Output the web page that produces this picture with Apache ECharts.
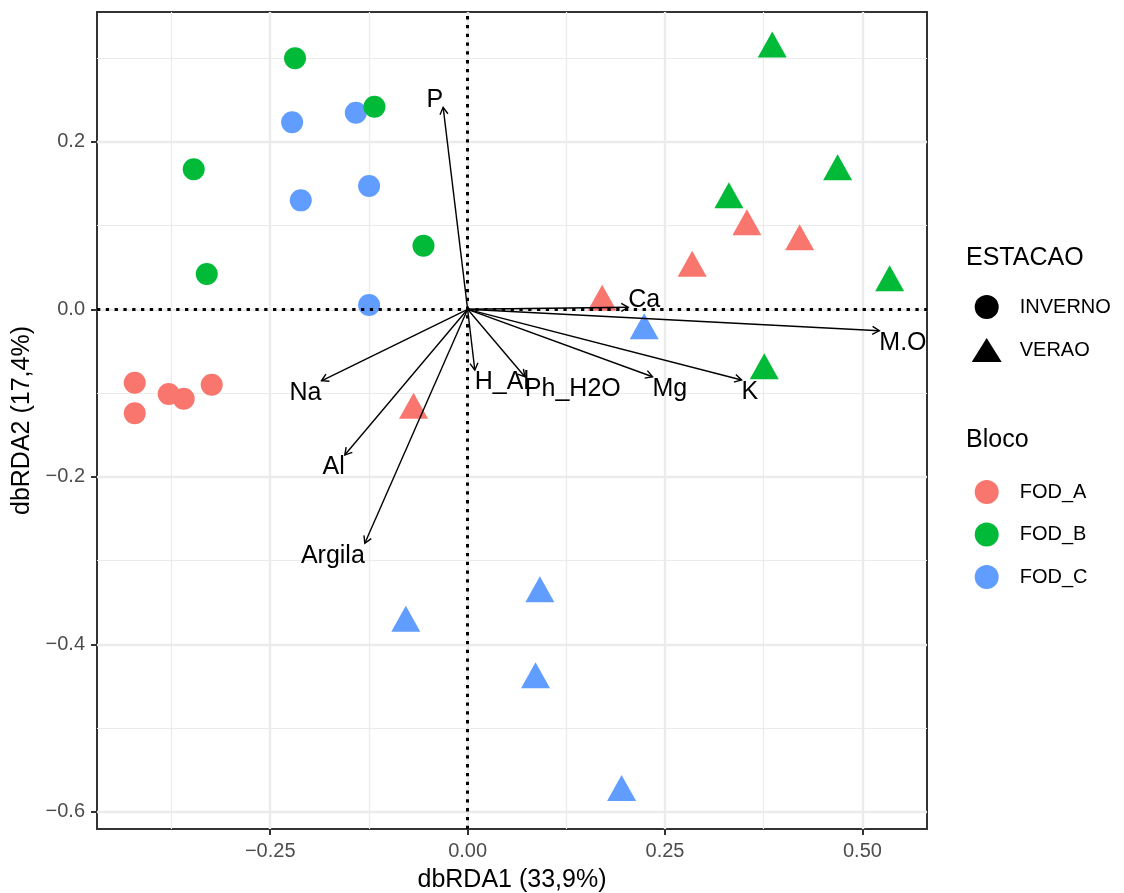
<!DOCTYPE html>
<html>
<head>
<meta charset="utf-8">
<script src="https://cdn.jsdelivr.net/npm/echarts@6/dist/echarts.min.js"></script>
<style>
html,body{margin:0;padding:0;background:#fff;}
#chart{width:1124px;height:893px;}
</style>
</head>
<body>
<div id="chart"></div>
<script>
// ---------- DATA ----------
const blocks = ['FOD_A', 'FOD_B', 'FOD_C'];
const seasons = ['INVERNO', 'VERAO'];

const fodA_season = ['INVERNO','INVERNO','INVERNO','INVERNO','INVERNO','VERAO','VERAO','VERAO','VERAO','VERAO'];
const fodA_x = [-0.4216, -0.3786, -0.3596, -0.3241, -0.4216, 0.3537, 0.4205, 0.2844, 0.1704, -0.0685];
const fodA_y = [-0.0876, -0.1011, -0.1067, -0.0900, -0.1242, 0.0988, 0.0808, 0.0493, 0.0085, -0.1203];

const fodB_season = ['INVERNO','INVERNO','INVERNO','INVERNO','INVERNO','VERAO','VERAO','VERAO','VERAO','VERAO'];
const fodB_x = [-0.2186, -0.1180, -0.3469, -0.3304, -0.0559, 0.3858, 0.4686, 0.3309, 0.5345, 0.3757];
const fodB_y = [0.2997, 0.2419, 0.1672, 0.0421, 0.0760, 0.3110, 0.1643, 0.1309, 0.0318, -0.0733];

const fodC_season = ['INVERNO','INVERNO','INVERNO','INVERNO','INVERNO','VERAO','VERAO','VERAO','VERAO','VERAO'];
const fodC_x = [-0.2223, -0.1416, -0.2113, -0.1248, -0.1248, 0.2236, -0.0783, 0.0915, 0.0860, 0.1950];
const fodC_y = [0.2233, 0.2348, 0.1301, 0.1472, 0.0051, -0.0255, -0.3746, -0.3394, -0.4422, -0.5768];

const envVars = ['P', 'Ca', 'M.O', 'K', 'Mg', 'H_Al', 'Ph_H2O', 'Na', 'Al', 'Argila'];
const envX = [-0.0310, 0.2034, 0.5214, 0.3470, 0.2342, 0.0091, 0.0725, -0.1851, -0.1556, -0.1302];
const envY = [0.2412, 0.0024, -0.0255, -0.0844, -0.0805, -0.0725, -0.0805, -0.0853, -0.1740, -0.2794];

const xTicks = [-0.25, 0, 0.25, 0.5];
const xMinorTicks = [-0.375, -0.125, 0.125, 0.375];
const yTicks = [-0.6, -0.4, -0.2, 0, 0.2];
const yMinorTicks = [-0.5, -0.3, -0.1, 0.1, 0.3];
const xTitle = 'dbRDA1 (33,9%)';
const yTitle = 'dbRDA2 (17,4%)';
const shapeLegendTitle = 'ESTACAO';
const colorLegendTitle = 'Bloco';

// ---------- STYLE ----------
const FONT = "'Liberation Sans', Arial, sans-serif";
const blockColors = { FOD_A: '#F8766D', FOD_B: '#00BA38', FOD_C: '#619CFF' };
const xMin = -0.4694, xMax = 0.5818, yMin = -0.6205, yMax = 0.355;

function pts(xs, ys, ss) {
  return xs.map((x, i) => {
    const tri = ss[i] === 'VERAO';
    return {
      value: [x, ys[i]],
      symbol: tri ? 'triangle' : 'circle',
      symbolSize: tri ? [29, 26] : 22,
      symbolOffset: tri ? [0, '-16.7%'] : [0, 0]
    };
  });
}
function fmtMinus(s) { return s.replace('-', '\u2212'); }

const chart = echarts.init(document.getElementById('chart'), null, { renderer: 'canvas' });

const option = {
  animation: false,
  backgroundColor: '#ffffff',
  textStyle: { fontFamily: FONT },
  grid: {
    left: 97, top: 12, right: 197, bottom: 64,
    outerBoundsMode: 'none', containLabel: false,
    show: true, borderColor: '#333333', borderWidth: 2, backgroundColor: 'transparent'
  },
  title: [
    { text: shapeLegendTitle, left: 966, top: 246, padding: 0,
      textStyle: { fontSize: 25, fontWeight: 'normal', color: '#000', fontFamily: FONT } },
    { text: colorLegendTitle, left: 966, top: 428, padding: 0,
      textStyle: { fontSize: 25, fontWeight: 'normal', color: '#000', fontFamily: FONT } }
  ],
  legend: [
    { orient: 'vertical', left: 971.7, top: 295, padding: 0, itemWidth: 30, itemHeight: 24, itemGap: 19,
      selectedMode: false,
      data: [
        { name: seasons[0], icon: 'circle', itemStyle: { color: '#000', borderWidth: 0, opacity: 1 } },
        { name: seasons[1], icon: 'triangle', itemStyle: { color: '#000', borderWidth: 0, opacity: 1 } }
      ],
      textStyle: { fontSize: 20, color: '#000', fontFamily: FONT, padding: [0, 0, 0, 13], lineHeight: 24 } },
    { orient: 'vertical', left: 974.7, top: 480, padding: 0, itemWidth: 24, itemHeight: 24, itemGap: 18.5,
      selectedMode: false,
      data: blocks.map(b => ({ name: b, icon: 'circle', itemStyle: { color: blockColors[b], borderWidth: 0, opacity: 1 } })),
      textStyle: { fontSize: 20, color: '#000', fontFamily: FONT, padding: [0, 0, 0, 16], lineHeight: 24 } }
  ],
  xAxis: [
    { type: 'value', min: xMin, max: xMax, position: 'bottom',
      axisLine: { show: false, onZero: false },
      axisTick: { show: true, length: 6, lineStyle: { color: '#333333', width: 2 }, customValues: xTicks },
      axisLabel: { customValues: xTicks, fontSize: 20, color: '#4D4D4D', margin: 12, fontFamily: FONT,
        formatter: v => fmtMinus(v.toFixed(2)) },
      splitLine: { show: true, lineStyle: { color: '#EBEBEB', width: 2.4 } },
      name: xTitle, nameLocation: 'middle', nameGap: 39,
      nameTextStyle: { fontSize: 25, color: '#000', fontFamily: FONT } },
    { type: 'value', min: xMin, max: xMax, position: 'top',
      axisLine: { show: false, onZero: false },
      axisTick: { show: false, customValues: xMinorTicks },
      axisLabel: { show: false, customValues: xMinorTicks },
      splitLine: { show: true, lineStyle: { color: '#EBEBEB', width: 1.2 } } }
  ],
  yAxis: [
    { type: 'value', min: yMin, max: yMax, position: 'left',
      axisLine: { show: false, onZero: false },
      axisTick: { show: true, length: 6, lineStyle: { color: '#333333', width: 2 }, customValues: yTicks },
      axisLabel: { customValues: yTicks, fontSize: 20, color: '#4D4D4D', margin: 12, fontFamily: FONT,
        formatter: v => fmtMinus(v.toFixed(1)) },
      splitLine: { show: true, lineStyle: { color: '#EBEBEB', width: 2.4 } },
      name: yTitle, nameLocation: 'middle', nameGap: 53, nameRotate: 90,
      nameTextStyle: { fontSize: 25, color: '#000', fontFamily: FONT } },
    { type: 'value', min: yMin, max: yMax, position: 'right',
      axisLine: { show: false, onZero: false },
      axisTick: { show: false, customValues: yMinorTicks },
      axisLabel: { show: false, customValues: yMinorTicks },
      splitLine: { show: true, lineStyle: { color: '#EBEBEB', width: 1.2 } } }
  ],
  series: [
    { type: 'scatter', name: seasons[0], data: [], itemStyle: { color: '#000', opacity: 1 }, symbol: 'circle' },
    { type: 'scatter', name: seasons[1], data: [], itemStyle: { color: '#000', opacity: 1 }, symbol: 'triangle' },
    { type: 'scatter', name: 'FOD_A', z: 2, itemStyle: { color: blockColors.FOD_A, opacity: 1 },
      data: pts(fodA_x, fodA_y, fodA_season) },
    { type: 'scatter', name: 'FOD_C', z: 2, itemStyle: { color: blockColors.FOD_C, opacity: 1 },
      data: pts(fodC_x, fodC_y, fodC_season) },
    { type: 'scatter', name: 'FOD_B', z: 2, itemStyle: { color: blockColors.FOD_B, opacity: 1 },
      data: pts(fodB_x, fodB_y, fodB_season) },
    { type: 'scatter', name: 'zeroLines', data: [], z: 3, silent: true,
      markLine: { silent: true, symbol: ['none', 'none'], label: { show: false },
        lineStyle: { color: '#000', type: [3.3, 5.5], width: 3 },
        emphasis: { disabled: true },
        data: [{ xAxis: 0 }, { yAxis: 0 }] } },
    { type: 'custom', name: 'env', z: 4, silent: true,
      data: envX.map((x, i) => [x, envY[i]]),
      renderItem: function (params, api) {
        const x = api.value(0), y = api.value(1);
        const o = api.coord([0, 0]);
        const t = api.coord([x, y]);
        const ang = Math.atan2(t[1] - o[1], t[0] - o[0]);
        const L = 8, a = Math.PI / 6;
        const p1 = [t[0] - L * Math.cos(ang - a), t[1] - L * Math.sin(ang - a)];
        const p2 = [t[0] - L * Math.cos(ang + a), t[1] - L * Math.sin(ang + a)];
        return {
          type: 'group',
          children: [
            { type: 'line', shape: { x1: o[0], y1: o[1], x2: t[0], y2: t[1] },
              style: { stroke: '#000', lineWidth: 1.4 } },
            { type: 'polyline', shape: { points: [p1, t, p2] },
              style: { stroke: '#000', lineWidth: 1.4, fill: null } },
            { type: 'text', x: t[0], y: t[1] + (y < 0 ? 0 : 5.5),
              style: { text: envVars[params.dataIndex], fill: '#000',
                font: '25px ' + FONT,
                align: x < 0 ? 'right' : 'left',
                verticalAlign: y < 0 ? 'top' : 'bottom' } }
          ]
        };
      }
    }
  ]
};
chart.setOption(option);
</script>
</body>
</html>
